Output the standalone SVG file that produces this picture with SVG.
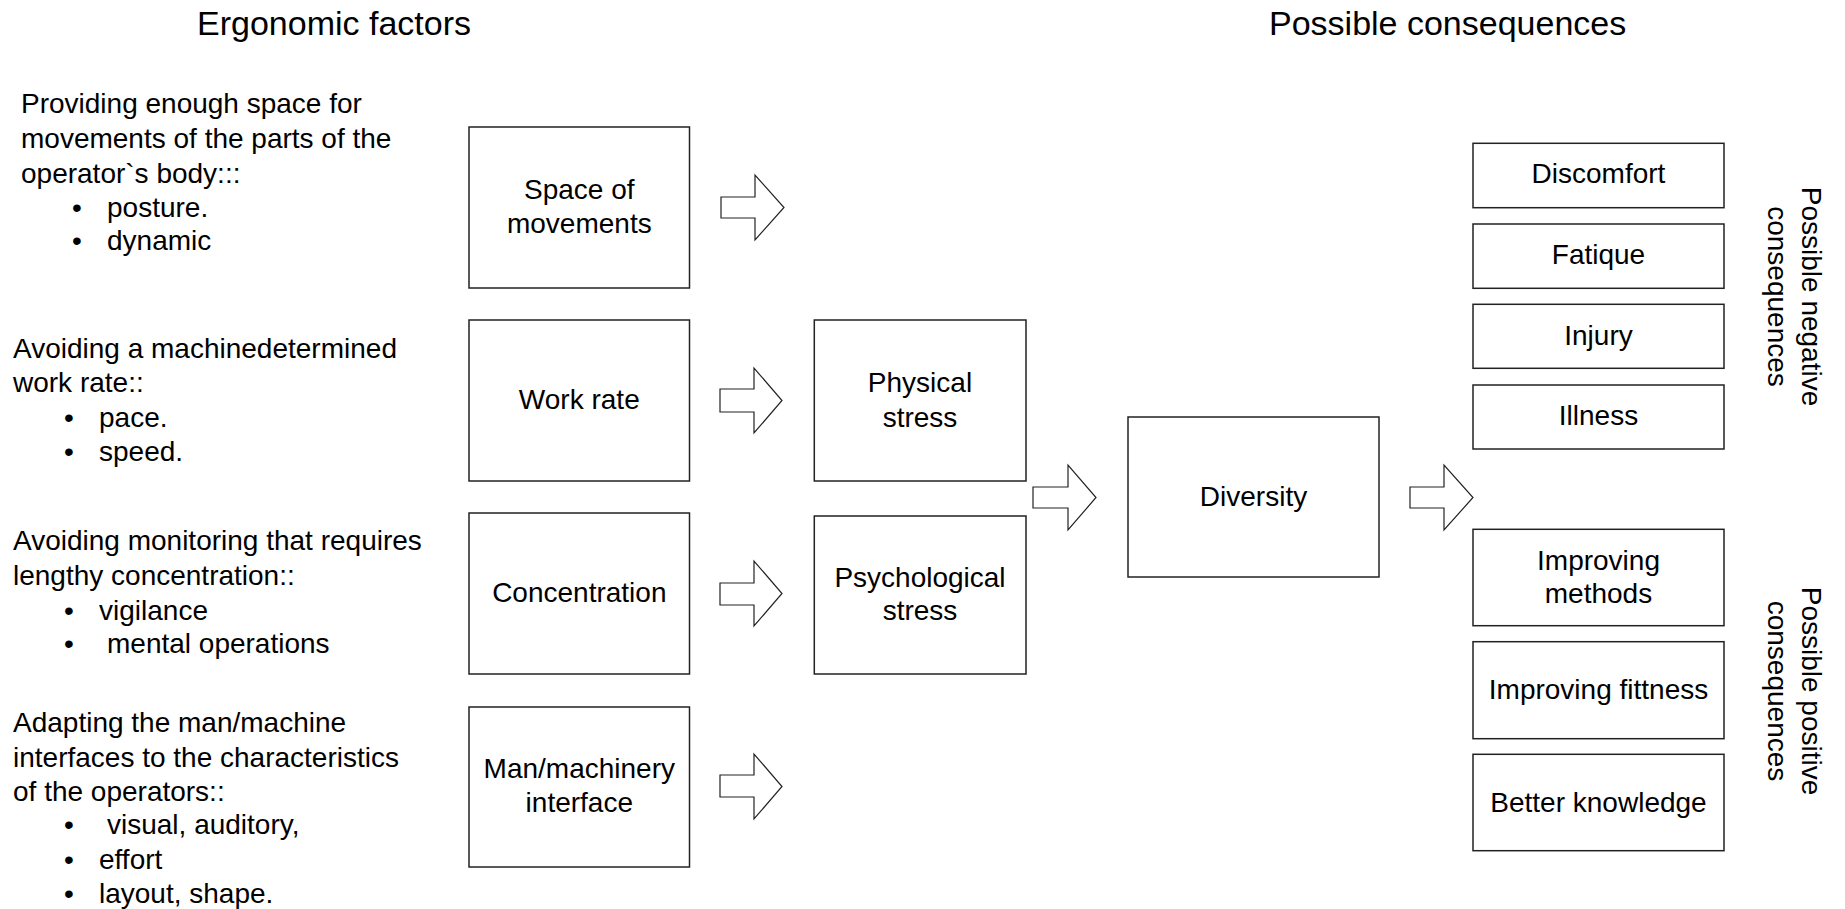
<svg xmlns="http://www.w3.org/2000/svg" width="1845" height="909" viewBox="0 0 1845 909">
<style>
text{font-family:"Liberation Sans",Arial,sans-serif;fill:#000;font-size:28px}
.title{font-size:34px}
.c{text-anchor:middle}
.box{fill:#fff;stroke:#222;stroke-width:1.5}
.arr{fill:#fff;stroke:#222;stroke-width:1.2;stroke-linejoin:miter}
</style>
<rect width="1845" height="909" fill="#fff"/>
<text class="title" x="197" y="35">Ergonomic factors</text>
<text class="title" x="1269" y="35">Possible consequences</text>

<g id="factor-text-1">
<text x="21" y="113">Providing enough space for</text>
<text x="21" y="148">movements of the parts of the</text>
<text x="21" y="183">operator`s body:::</text>
<text class="c" x="77" y="217">•</text><text x="107" y="217">posture.</text>
<text class="c" x="77" y="250">•</text><text x="107" y="250">dynamic</text>
</g>
<g id="factor-text-2">
<text x="13" y="358">Avoiding a machinedetermined</text>
<text x="13" y="392">work rate::</text>
<text class="c" x="69" y="427">•</text><text x="99" y="427">pace.</text>
<text class="c" x="69" y="461">•</text><text x="99" y="461">speed.</text>
</g>
<g id="factor-text-3">
<text x="13" y="550">Avoiding monitoring that requires</text>
<text x="13" y="585">lengthy concentration::</text>
<text class="c" x="69" y="620">•</text><text x="99" y="620">vigilance</text>
<text class="c" x="69" y="653">•</text><text x="107" y="653">mental operations</text>
</g>
<g id="factor-text-4">
<text x="13" y="732">Adapting the man/machine</text>
<text x="13" y="767">interfaces to the characteristics</text>
<text x="13" y="801">of the operators::</text>
<text class="c" x="69" y="834">•</text><text x="107" y="834">visual, auditory,</text>
<text class="c" x="69" y="869">•</text><text x="99" y="869">effort</text>
<text class="c" x="69" y="903">•</text><text x="99" y="903">layout, shape.</text>
</g>

<g id="space">
<rect class="box" x="469" y="127" width="220.5" height="161"/>
<text class="c" x="579.3" y="199">Space of</text>
<text class="c" x="579.3" y="233">movements</text>
</g>
<g id="workrate">
<rect class="box" x="469" y="320" width="220.5" height="161"/>
<text class="c" x="579.3" y="409">Work rate</text>
</g>
<g id="concentration">
<rect class="box" x="469" y="513" width="220.5" height="161"/>
<text class="c" x="579.3" y="602">Concentration</text>
</g>
<g id="interface">
<rect class="box" x="469" y="707" width="220.5" height="160"/>
<text class="c" x="579.3" y="778">Man/machinery</text>
<text class="c" x="579.3" y="812">interface</text>
</g>
<g id="physical">
<rect class="box" x="814.3" y="320" width="211.7" height="161"/>
<text class="c" x="920" y="392">Physical</text>
<text class="c" x="920" y="427">stress</text>
</g>
<g id="psychological">
<rect class="box" x="814.3" y="516" width="211.7" height="158"/>
<text class="c" x="920" y="587">Psychological</text>
<text class="c" x="920" y="620">stress</text>
</g>
<g id="diversity">
<rect class="box" x="1128" y="417" width="251" height="160"/>
<text class="c" x="1253.5" y="506">Diversity</text>
</g>
<g id="discomfort">
<rect class="box" x="1473" y="143.3" width="251" height="64.4"/>
<text class="c" x="1598.5" y="183.3">Discomfort</text>
</g>
<g id="fatique">
<rect class="box" x="1473" y="224" width="251" height="64.3"/>
<text class="c" x="1598.5" y="264.3">Fatique</text>
</g>
<g id="injury">
<rect class="box" x="1473" y="304.3" width="251" height="64"/>
<text class="c" x="1598.5" y="345">Injury</text>
</g>
<g id="illness">
<rect class="box" x="1473" y="385" width="251" height="64"/>
<text class="c" x="1598.5" y="425">Illness</text>
</g>
<g id="methods">
<rect class="box" x="1473" y="529.3" width="251" height="96.4"/>
<text class="c" x="1598.5" y="570">Improving</text>
<text class="c" x="1598.5" y="603.3">methods</text>
</g>
<g id="fitness">
<rect class="box" x="1473" y="641.7" width="251" height="97"/>
<text class="c" x="1598.5" y="699">Improving fittness</text>
</g>
<g id="knowledge">
<rect class="box" x="1473" y="754.3" width="251" height="96.4"/>
<text class="c" x="1598.5" y="811.7">Better knowledge</text>
</g>

<g id="label-negative">
<text class="c" transform="translate(1802,296.5) rotate(90)">Possible negative</text>
<text class="c" transform="translate(1768,296.5) rotate(90)">consequences</text>
</g>
<g id="label-positive">
<text class="c" transform="translate(1802,691) rotate(90)">Possible positive</text>
<text class="c" transform="translate(1768,691) rotate(90)">consequences</text>
</g>

<g id="connectors">
<polygon class="arr" points="721,197 755,197 755,175 784,207.5 755,240 755,218 721,218"/>
<polygon class="arr" points="720,389 754,389 754,368 782,400.5 754,433 754,412 720,412"/>
<polygon class="arr" points="720,583 754,583 754,561 782,593.5 754,626 754,605 720,605"/>
<polygon class="arr" points="720,775 754,775 754,754 782,786.5 754,819 754,797 720,797"/>
<polygon class="arr" points="1033,487 1068,487 1068,465 1096,497.5 1068,530 1068,508 1033,508"/>
<polygon class="arr" points="1410,487 1444,487 1444,465 1473,497.5 1444,530 1444,508 1410,508"/>
</g>
</svg>
